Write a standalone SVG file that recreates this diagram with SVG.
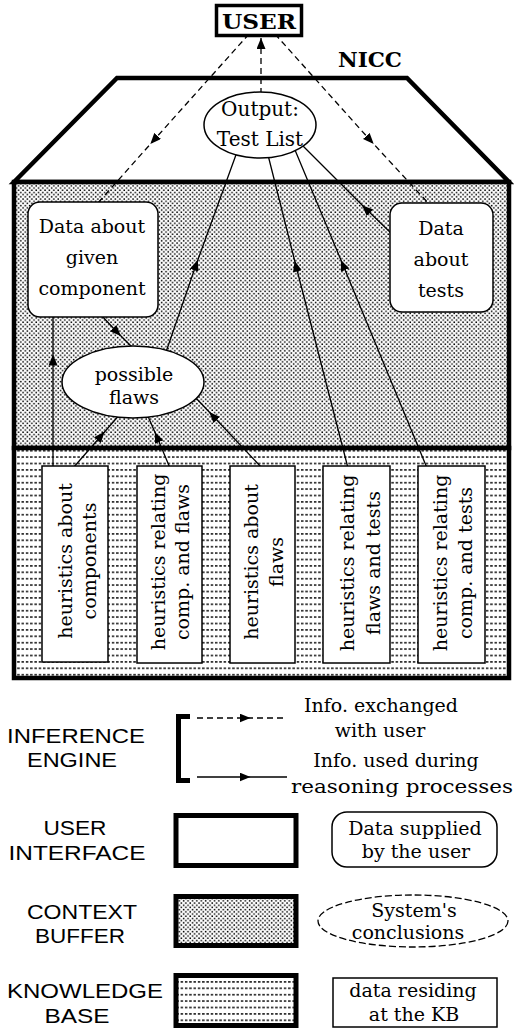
<svg xmlns="http://www.w3.org/2000/svg" width="514" height="1030" viewBox="0 0 514 1030">
<style>
.frame{stroke:#000;stroke-width:4.5;stroke-linejoin:miter}
.node{fill:#fff;stroke:#000;stroke-width:1.5}
.t{font-family:"DejaVu Serif","Liberation Serif",serif;font-size:19px;fill:#000;text-anchor:middle}
.tb{font-family:"DejaVu Serif","Liberation Serif",serif;font-size:20px;font-weight:bold;fill:#000;text-anchor:middle}
.s{font-family:"Liberation Sans",Arial,sans-serif;font-size:21px;fill:#000;text-anchor:middle}
.dash{fill:none;stroke:#000;stroke-width:1.3;stroke-dasharray:6 4}
.solid{fill:none;stroke:#000;stroke-width:1.3}
</style>
<defs>
<pattern id="dots" width="4.4" height="4.4" patternUnits="userSpaceOnUse"><rect width="4.4" height="4.4" fill="#fff"/><rect x="0.3" y="0.3" width="1.5" height="1.5" fill="#000"/><rect x="2.5" y="2.5" width="1.5" height="1.5" fill="#000"/></pattern>
<pattern id="kb" width="4.3" height="6.4" patternUnits="userSpaceOnUse"><rect width="4.3" height="6.4" fill="#fff"/><rect x="0" y="2" width="2.5" height="1.4" fill="#000"/></pattern>
<marker id="ah" viewBox="0 0 11 9" refX="5.5" refY="4.5" markerWidth="11" markerHeight="9" markerUnits="userSpaceOnUse" orient="auto"><path d="M0,0 L11,4.5 L0,9 z" fill="#000"/></marker>
<marker id="ahEnd" viewBox="0 0 11 9" refX="11" refY="4.5" markerWidth="11" markerHeight="9" markerUnits="userSpaceOnUse" orient="auto"><path d="M0,0 L11,4.5 L0,9 z" fill="#000"/></marker>
</defs>
<rect width="514" height="1030" fill="#fff"/>

<g id="regions">
<path class="frame" d="M14,182 L117,78 L407,78 L509,182 Z" fill="#fff"/>
<rect id="context-buffer" class="frame" x="14" y="182" width="495" height="266" fill="url(#dots)"/>
<rect id="knowledge-base" class="frame" x="14" y="448" width="495" height="230" fill="url(#kb)"/>
<text class="tb" x="370" y="67" textLength="64" lengthAdjust="spacingAndGlyphs">NICC</text>
</g>

<g id="connectors">
<path class="dash" d="M261,94 L261,38" marker-end="url(#ahEnd)"/>
<path class="dash" d="M249,34 L154,140 L97,204" marker-mid="url(#ah)"/>
<path class="dash" d="M275,34 L370,140 L430,205" marker-mid="url(#ah)"/>
<path class="solid" d="M53,468 L53,360 L53,315" marker-mid="url(#ah)"/>
<path class="solid" d="M73,468 L101,436 L121,413" marker-mid="url(#ah)"/>
<path class="solid" d="M170,468 L157,437 L147,414" marker-mid="url(#ah)"/>
<path class="solid" d="M262,468 L213,416 L195,397" marker-mid="url(#ah)"/>
<path class="solid" d="M101,315 L117,332 L135,350" marker-mid="url(#ah)"/>
<path class="solid" d="M166,352 L196,265 L237,152" marker-mid="url(#ah)"/>
<path class="solid" d="M348,468 L296,266 L268,155" marker-mid="url(#ah)"/>
<path class="solid" d="M427,468 L343,265 L295,150" marker-mid="url(#ah)"/>
<path class="solid" d="M392,234 L366,209 L302,145" marker-mid="url(#ah)"/>
</g>

<g id="user">
<rect x="216.5" y="5.5" width="85" height="30" fill="#fff" stroke="#000" stroke-width="3.5"/>
<text class="tb" x="259" y="29" textLength="74" lengthAdjust="spacingAndGlyphs">USER</text>
</g>

<g id="output">
<ellipse class="node" cx="260" cy="125" rx="56" ry="33"/>
<text class="t" x="260" y="116" style="font-size:20px">Output:</text>
<text class="t" x="260" y="146" style="font-size:20px">Test List</text>
</g>

<g id="data-component">
<rect class="node" x="28" y="202" width="130" height="115" rx="12"/>
<text class="t" x="92" y="233">Data about</text>
<text class="t" x="92" y="264">given</text>
<text class="t" x="92" y="295">component</text>
</g>

<g id="data-tests">
<rect class="node" x="390" y="203" width="103" height="109" rx="12"/>
<text class="t" x="441" y="235">Data</text>
<text class="t" x="441" y="266">about</text>
<text class="t" x="441" y="297">tests</text>
</g>

<g id="possible-flaws">
<ellipse class="node" cx="133" cy="382" rx="71" ry="36"/>
<text class="t" x="134" y="381">possible</text>
<text class="t" x="134" y="404">flaws</text>
</g>

<g id="kb1">
<rect class="node" x="42" y="466" width="66" height="196"/>
<text class="t" transform="translate(72,561) rotate(-90)">heuristics about</text>
<text class="t" transform="translate(96,561) rotate(-90)">components</text>
</g>
<g id="kb2">
<rect class="node" x="137" y="466" width="65" height="197"/>
<text class="t" transform="translate(165,562) rotate(-90)">heuristics relating</text>
<text class="t" transform="translate(189,562) rotate(-90)">comp. and flaws</text>
</g>
<g id="kb3">
<rect class="node" x="230" y="466" width="65" height="197"/>
<text class="t" transform="translate(258,562) rotate(-90)">heuristics about</text>
<text class="t" transform="translate(283,562) rotate(-90)">flaws</text>
</g>
<g id="kb4">
<rect class="node" x="323" y="466" width="67" height="197"/>
<text class="t" transform="translate(354,563) rotate(-90)">heuristics relating</text>
<text class="t" transform="translate(380,563) rotate(-90)">flaws and tests</text>
</g>
<g id="kb5">
<rect class="node" x="418" y="466" width="67" height="197"/>
<text class="t" transform="translate(447,563) rotate(-90)">heuristics relating</text>
<text class="t" transform="translate(472,563) rotate(-90)">comp. and tests</text>
</g>

<g id="legend">
<text class="s" x="76" y="743" textLength="138" lengthAdjust="spacingAndGlyphs">INFERENCE</text>
<text class="s" x="72" y="767" textLength="90" lengthAdjust="spacingAndGlyphs">ENGINE</text>
<path d="M190,716.5 L178.5,716.5 L178.5,780.5 L190,780.5" fill="none" stroke="#000" stroke-width="5"/>
<path class="dash" d="M197,718 L245,718 L287,718" marker-mid="url(#ah)"/>
<path class="solid" d="M197,777 L245,777 L287,777" marker-mid="url(#ah)"/>
<text class="t" x="381" y="712">Info. exchanged</text>
<text class="t" x="380" y="737">with user</text>
<text class="t" x="396" y="767">Info. used during</text>
<text class="t" x="402" y="793" textLength="222" lengthAdjust="spacingAndGlyphs">reasoning processes</text>

<text class="s" x="75" y="835" textLength="63" lengthAdjust="spacingAndGlyphs">USER</text>
<text class="s" x="77" y="860" textLength="137" lengthAdjust="spacingAndGlyphs">INTERFACE</text>
<rect x="176" y="815.5" width="120" height="50" fill="#fff" stroke="#000" stroke-width="5"/>
<rect x="332" y="812" width="165" height="55" rx="15" class="node"/>
<text class="t" x="415" y="835">Data supplied</text>
<text class="t" x="416" y="858">by the user</text>

<text class="s" x="82" y="919" textLength="110" lengthAdjust="spacingAndGlyphs">CONTEXT</text>
<text class="s" x="80" y="943" textLength="90" lengthAdjust="spacingAndGlyphs">BUFFER</text>
<rect x="176" y="896.5" width="120" height="49" fill="url(#dots)" stroke="#000" stroke-width="5"/>
<ellipse cx="413" cy="921" rx="95" ry="26" fill="#fff" stroke="#000" stroke-width="1.3" stroke-dasharray="7 3"/>
<text class="t" x="414" y="917">System's</text>
<text class="t" x="408" y="939">conclusions</text>

<text class="s" x="85" y="998" textLength="156" lengthAdjust="spacingAndGlyphs">KNOWLEDGE</text>
<text class="s" x="77" y="1023" textLength="65" lengthAdjust="spacingAndGlyphs">BASE</text>
<rect x="176" y="975.5" width="120" height="50" fill="url(#kb)" stroke="#000" stroke-width="5"/>
<rect x="333" y="978" width="164" height="49" class="node"/>
<text class="t" x="413" y="997">data residing</text>
<text class="t" x="414" y="1021">at the KB</text>
</g>
</svg>
